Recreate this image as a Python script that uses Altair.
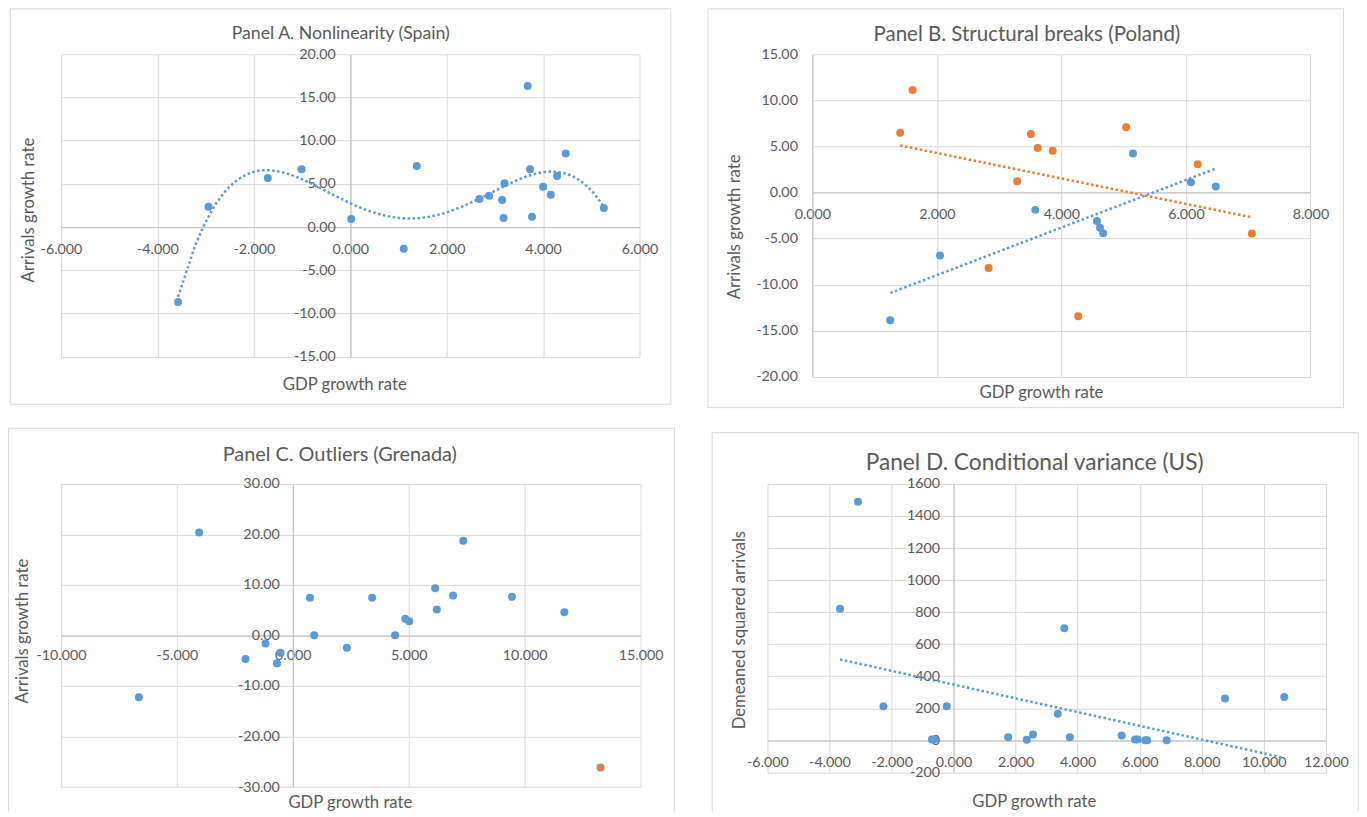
import altair as alt
import pandas as pd

# ---------------- data ----------------
# Panel A. Nonlinearity (Spain)
A_gdp = [-3.57, -2.94, -1.71, -1.01, 0.02, 1.11, 1.38, 2.68, 2.88, 3.15,
         3.20, 3.18, 3.68, 3.73, 3.77, 4.00, 4.16, 4.29, 4.47, 5.26]
A_arr = [-8.66, 2.36, 5.68, 6.69, 0.93, -2.51, 7.08, 3.25, 3.63, 3.13,
         5.07, 1.04, 16.32, 6.69, 1.20, 4.68, 3.75, 5.92, 8.51, 2.20]

# Panel B. Structural breaks (Poland)
B1_gdp = [1.25, 2.05, 3.58, 4.57, 4.62, 4.67, 5.15, 6.08, 6.48]
B1_arr = [-13.87, -6.83, -1.89, -3.10, -3.82, -4.44, 4.24, 1.11, 0.64]
B2_gdp = [1.41, 1.61, 2.83, 3.29, 3.51, 3.62, 3.86, 4.27, 5.04, 6.19, 7.06]
B2_arr = [6.49, 11.11, -8.20, 1.21, 6.34, 4.82, 4.53, -13.43, 7.09, 3.06, -4.45]

# Panel C. Outliers (Grenada)
C_gdp = [-6.64, -4.04, -2.04, -1.18, -0.53, -0.68, 0.74, 0.92, 2.33, 3.42,
         4.41, 4.85, 5.02, 6.14, 6.21, 6.91, 7.35, 9.45, 11.71, 13.27]
C_arr = [-12.22, 20.39, -4.64, -1.57, -3.40, -5.49, 7.45, 0.07, -2.42, 7.45,
         0.07, 3.33, 2.81, 9.35, 5.16, 7.91, 18.76, 7.65, 4.58, -26.14]
C_out_gdp = [13.27]
C_out_arr = [-26.14]

# Panel D. Conditional variance (US)
D_gdp = [-3.08, -3.66, -2.26, -0.22, -0.70, -0.62, 1.76, 2.36, 2.56, 3.36,
         3.57, 3.75, 5.42, 5.85, 5.93, 6.18, 6.24, 6.87, 8.75, 10.66]
D_var = [1489, 821, 213, 213, 6, 6, 19, 4, 37, 166,
         700, 19, 31, 6, 6, 1, 1, 1, 262, 271]

# ---------------- style ----------------
FONT = "Lato"
TXT = "#595959"
GRID = "#d9d9d9"
AXISC = "#bfbfbf"
FRAME = "#d9d9d9"
BLUE = "#5b9bd5"
ORANGE = "#ed7d31"
TICK_FS = 14.3
AXT_FS = 16.7
PT = 64
DASH = [2.5, 2.5]
ONE = pd.DataFrame({"k": [0]})


def signed(fmt):
    return "(datum.value < 0 ? '-' : '') + format(abs(datum.value), '" + fmt + "')"


def axis(**kw):
    base = dict(title=None, ticks=False, tickSize=0, grid=True, gridColor=GRID,
                gridWidth=1, domainColor=AXISC, domainWidth=1, labelFont=FONT,
                labelFontSize=TICK_FS, labelColor=TXT, labelFlush=False,
                labelOverlap=False, labelBound=False)
    base.update(kw)
    return alt.Axis(**base)


def encodings(c):
    w, h = c["w"], c["h"]
    (x0, x1), (y0, y1) = c["xdom"], c["ydom"]
    xoff = -h * (0 - y0) / (y1 - y0)
    yoff = -w * (0 - x0) / (x1 - x0)
    X = alt.X("gdp:Q", scale=alt.Scale(domain=[x0, x1], nice=False, zero=False),
              axis=axis(values=c["xvals"], offset=xoff, labelExpr=signed(c["xfmt"]),
                        labelPadding=c["xlp"], labelAlign="center",
                        labelBaseline="middle"))
    Y = alt.Y("val:Q", scale=alt.Scale(domain=[y0, y1], nice=False, zero=False),
              axis=axis(values=c["yvals"], offset=yoff, labelExpr=signed(c["yfmt"]),
                        labelPadding=c["ylp"], labelAlign="right",
                        labelBaseline="middle"))
    return X, Y


def vline(x, y0, y1):
    return alt.Chart(ONE).mark_rule(color=FRAME, strokeWidth=1).encode(
        x=alt.value(x), y=alt.value(y0), y2=alt.value(y1))


def hline(x0, x1, y):
    return alt.Chart(ONE).mark_rule(color=FRAME, strokeWidth=1).encode(
        x=alt.value(x0), x2=alt.value(x1), y=alt.value(y))


def label(s, x, y, size, angle=0):
    return alt.Chart(pd.DataFrame({"t": [s]})).mark_text(
        font=FONT, fontSize=size, color=TXT, angle=angle, align="center",
        baseline="middle").encode(text="t:N", x=alt.value(x), y=alt.value(y))


def decor(c):
    bx0, bx1, by0, by1 = c["box"]
    layers = [alt.Chart(ONE).mark_rect(opacity=0).encode(
        x=alt.value(bx0), x2=alt.value(bx1), y=alt.value(by0), y2=alt.value(by1))]
    fx0, fx1, fy0, fy1 = c["frame"]
    layers += [vline(fx0, fy0, fy1), vline(fx1, fy0, fy1), hline(fx0, fx1, fy0)]
    if c["frame_bottom"]:
        layers.append(hline(fx0, fx1, fy1))
    t, tx, ty, ts = c["title"]
    layers.append(label(t, tx, ty, ts))
    t, tx, ty = c["xtitle"]
    layers.append(label(t, tx, ty, AXT_FS))
    t, tx, ty = c["ytitle"]
    layers.append(label(t, tx, ty, AXT_FS, angle=270))
    return layers


def build(c, data_layers):
    return alt.layer(*(decor(c) + data_layers)).properties(width=c["w"], height=c["h"])


# ---------------- panel A ----------------
cA = dict(w=579, h=302.7, xdom=[-6, 6], ydom=[-15, 20],
          xvals=[-6, -4, -2, 0, 2, 4, 6], yvals=[-15, -10, -5, 0, 5, 10, 15, 20],
          xfmt=".3f", yfmt=".2f", xlp=22, ylp=15,
          title=("Panel A. Nonlinearity (Spain)", 280, -20, 17.7),
          xtitle=("GDP growth rate", 284, 331),
          ytitle=("Arrivals growth rate", -32, 156),
          frame=(-50.7, 610.3, -45.5, 350.3), frame_bottom=True,
          box=(-53, 629, -46, 361))
dfA = pd.DataFrame({"gdp": A_gdp, "val": A_arr})
XA, YA = encodings(cA)
pA = build(cA, [
    alt.Chart(dfA).transform_regression("gdp", "val", method="poly", order=4)
    .mark_line(color=BLUE, strokeWidth=2.5, strokeDash=DASH).encode(x=XA, y=YA),
    alt.Chart(dfA).mark_circle(size=PT, color=BLUE, opacity=1).encode(x=XA, y=YA),
])

# ---------------- panel B ----------------
cB = dict(w=498.4, h=322.7, xdom=[0, 8], ydom=[-20, 15],
          xvals=[0, 2, 4, 6, 8], yvals=[-20, -15, -10, -5, 0, 5, 10, 15],
          xfmt=".3f", yfmt=".2f", xlp=22, ylp=15,
          title=("Panel B. Structural breaks (Poland)", 214.7, -19.7, 20.5),
          xtitle=("GDP growth rate", 229.2, 339.3),
          ytitle=("Arrivals growth rate", -77.8, 172.7),
          frame=(-104.5, 531.5, -45.5, 353.7), frame_bottom=True,
          box=(-122.8, 537.2, -46, 361))
dfB = pd.DataFrame({"gdp": B1_gdp + B2_gdp, "val": B1_arr + B2_arr,
                    "s": ["Series 1"] * len(B1_gdp) + ["Series 2"] * len(B2_gdp)})
XB, YB = encodings(cB)
colB = alt.Color("s:N", scale=alt.Scale(domain=["Series 1", "Series 2"],
                                        range=[BLUE, ORANGE]), legend=None)
pB = build(cB, [
    alt.Chart(dfB).transform_regression("gdp", "val", groupby=["s"])
    .mark_line(strokeWidth=2.5, strokeDash=DASH).encode(x=XB, y=YB, color=colB),
    alt.Chart(dfB).mark_circle(size=PT, opacity=1).encode(x=XB, y=YB, color=colB),
])

# ---------------- panel C ----------------
cC = dict(w=580.1, h=303.3, xdom=[-10, 15], ydom=[-30, 30],
          xvals=[-10, -5, 0, 5, 10, 15], yvals=[-30, -20, -10, 0, 10, 20, 30],
          xfmt=".3f", yfmt=".2f", xlp=20, ylp=13.5,
          title=("Panel C. Outliers (Grenada)", 279, -29.3, 19.9),
          xtitle=("GDP growth rate", 289.6, 319.5),
          ytitle=("Arrivals growth rate", -38.2, 147.3),
          frame=(-52.5, 614, -55.7, 327.5), frame_bottom=False,
          box=(-53, 632, -69, 328))
dfC = pd.DataFrame({"gdp": C_gdp, "val": C_arr})
dfC2 = pd.DataFrame({"gdp": C_out_gdp, "val": C_out_arr})
XC, YC = encodings(cC)
pC = build(cC, [
    alt.Chart(dfC).mark_circle(size=PT, color=BLUE, opacity=1).encode(x=XC, y=YC),
    alt.Chart(dfC2).mark_circle(size=44, color=ORANGE, opacity=1).encode(x=XC, y=YC),
])

# ---------------- panel D ----------------
cD = dict(w=558.8, h=288.7, xdom=[-6, 12], ydom=[-200, 1600],
          xvals=[-6, -4, -2, 0, 2, 4, 6, 8, 10, 12],
          yvals=[-200, 0, 200, 400, 600, 800, 1000, 1200, 1400, 1600],
          xfmt=".3f", yfmt="d", xlp=22, ylp=14,
          title=("Panel D. Conditional variance (US)", 267.4, -21.3, 22.7),
          xtitle=("GDP growth rate", 267, 318.5),
          ytitle=("Demeaned squared arrivals", -27.8, 146.3),
          frame=(-55.3, 591.3, -51.3, 327.5), frame_bottom=False,
          box=(-75, 592, -69, 328))
dfD = pd.DataFrame({"gdp": D_gdp, "val": D_var})
XD, YD = encodings(cD)
pD = build(cD, [
    alt.Chart(dfD).transform_regression("gdp", "val")
    .mark_line(color=BLUE, strokeWidth=2.5, strokeDash=DASH).encode(x=XD, y=YD),
    alt.Chart(dfD).mark_circle(size=PT, color=BLUE, opacity=1).encode(x=XD, y=YD),
])

chart = alt.vconcat(
    alt.hconcat(pA, pB, spacing=0),
    alt.hconcat(pC, pD, spacing=0),
    spacing=0,
).properties(padding=0, background="white").configure_view(stroke=None)

chart.save("out.html", embed_options={"renderer": "svg", "actions": False})
